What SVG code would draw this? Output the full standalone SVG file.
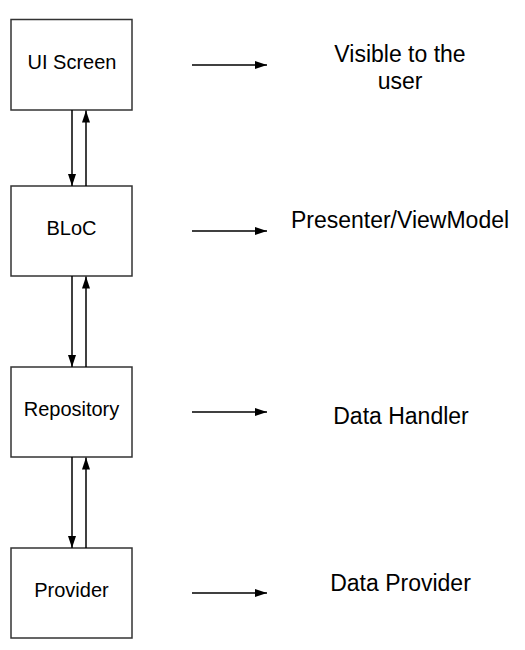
<svg xmlns="http://www.w3.org/2000/svg" width="525" height="650" viewBox="0 0 525 650">
<style>
.box{fill:#fff;stroke:#333;stroke-width:1.5}
.lbl{font-family:"Liberation Sans",Arial,sans-serif;font-size:20px;fill:#000;text-anchor:middle}
.rt{font-family:"Liberation Sans",Arial,sans-serif;font-size:23px;fill:#000;text-anchor:middle}
.ln{stroke:#000;stroke-width:1.5;fill:none}
</style>
<defs>
<marker id="ah" viewBox="0 0 12 8" refX="12" refY="4" markerWidth="12" markerHeight="8" markerUnits="userSpaceOnUse" orient="auto">
<path d="M0,0 L12,4 L0,8 Z" fill="#000"/>
</marker>
</defs>
<rect width="525" height="650" fill="#fff"/>
<g id="ui-screen"><rect class="box" x="11" y="19.5" width="121" height="90.5"/><text class="lbl" x="72" y="69">UI Screen</text></g>
<g id="bloc"><rect class="box" x="11" y="186" width="121" height="90"/><text class="lbl" x="71.5" y="235">BLoC</text></g>
<g id="repository"><rect class="box" x="11" y="367" width="121" height="90"/><text class="lbl" x="71.5" y="416">Repository</text></g>
<g id="provider"><rect class="box" x="11" y="548" width="121" height="90"/><text class="lbl" x="71.5" y="596.5">Provider</text></g>
<g id="label-visible"><text class="rt" x="400" y="61.5">Visible to the</text><text class="rt" x="400" y="89">user</text></g>
<g id="label-presenter"><text class="rt" x="400" y="227.5">Presenter/ViewModel</text></g>
<g id="label-data-handler"><text class="rt" x="401" y="424">Data Handler</text></g>
<g id="label-data-provider"><text class="rt" x="400.5" y="590.5">Data Provider</text></g>
<g id="connectors">
<line class="ln" x1="72" y1="110" x2="72" y2="186" marker-end="url(#ah)"/>
<line class="ln" x1="86" y1="186" x2="86" y2="110.5" marker-end="url(#ah)"/>
<line class="ln" x1="72" y1="276" x2="72" y2="367" marker-end="url(#ah)"/>
<line class="ln" x1="86" y1="367" x2="86" y2="276.5" marker-end="url(#ah)"/>
<line class="ln" x1="72" y1="457" x2="72" y2="548" marker-end="url(#ah)"/>
<line class="ln" x1="86" y1="548" x2="86" y2="457.5" marker-end="url(#ah)"/>
<line class="ln" x1="192" y1="65" x2="267" y2="65" marker-end="url(#ah)"/>
<line class="ln" x1="192" y1="231" x2="267" y2="231" marker-end="url(#ah)"/>
<line class="ln" x1="192" y1="412" x2="267" y2="412" marker-end="url(#ah)"/>
<line class="ln" x1="192" y1="593" x2="267" y2="593" marker-end="url(#ah)"/>
</g>
</svg>
